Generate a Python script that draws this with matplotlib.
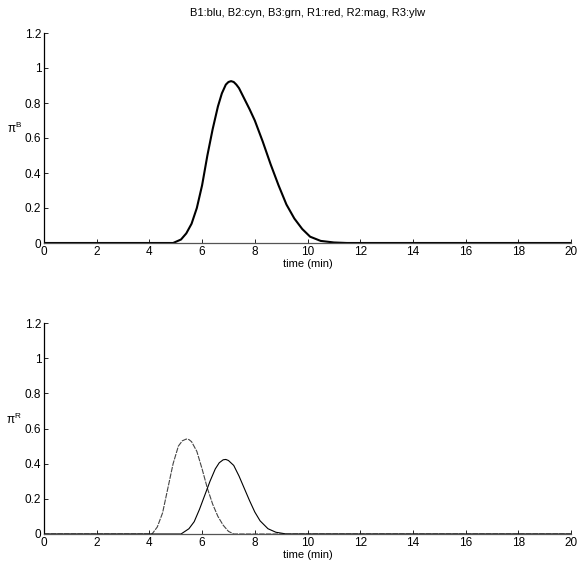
import matplotlib.pyplot as plt

plt.rcParams['font.family'] = ['Liberation Sans', 'DejaVu Sans']
plt.rcParams['mathtext.fontset'] = 'custom'
plt.rcParams['mathtext.rm'] = 'Liberation Sans'

# Top panel: blue-group response (only B1 is visible)
t_b1 = [0, 4.9, 5.2, 5.4, 5.6, 5.8, 6.0, 6.2, 6.4, 6.6, 6.75, 6.9, 7.0, 7.1, 7.2, 7.3,
        7.4, 7.6, 7.8, 8.0, 8.3, 8.6, 8.9, 9.2, 9.5, 9.8, 10.1, 10.5, 11.0, 11.5, 20]
pi_b1 = [0, 0, 0.02, 0.055, 0.11, 0.2, 0.33, 0.5, 0.65, 0.78, 0.855, 0.905, 0.92, 0.925, 0.92, 0.905,
         0.885, 0.825, 0.765, 0.70, 0.58, 0.45, 0.33, 0.22, 0.14, 0.08, 0.036, 0.012, 0.003, 0, 0]

# Bottom panel: red-group responses
t_r1 = [0, 4.1, 4.3, 4.5, 4.7, 4.9, 5.1, 5.25, 5.4, 5.5, 5.6, 5.8, 6.0, 6.2, 6.4,
        6.6, 6.8, 7.0, 7.2, 20]
pi_r1 = [0, 0, 0.04, 0.12, 0.26, 0.40, 0.50, 0.53, 0.54, 0.537, 0.525, 0.47, 0.37, 0.26, 0.17,
         0.10, 0.05, 0.015, 0, 0]

t_r2 = [0, 5.2, 5.5, 5.7, 5.9, 6.1, 6.3, 6.5, 6.65, 6.8, 6.9, 7.0, 7.2, 7.4, 7.6,
        7.8, 8.0, 8.2, 8.5, 8.8, 9.2, 20]
pi_r2 = [0, 0, 0.03, 0.07, 0.14, 0.22, 0.30, 0.37, 0.405, 0.422, 0.424, 0.418, 0.39, 0.33, 0.26,
         0.19, 0.125, 0.075, 0.03, 0.01, 0, 0]

x_ticks = list(range(0, 21, 2))
y_ticks = [0, 0.2, 0.4, 0.6, 0.8, 1, 1.2]
y_tick_labels = ['0', '0.2', '0.4', '0.6', '0.8', '1', '1.2']

fig = plt.figure(figsize=(5.82, 5.77), dpi=100)
ax_top = fig.add_axes([44 / 582, 334 / 577, 527 / 582, 210 / 577])
ax_bot = fig.add_axes([44 / 582, 43 / 577, 527 / 582, 211 / 577])

ax_top.plot(t_b1, pi_b1, color='black', lw=1.5)
ax_bot.plot(t_r1, pi_r1, color='#444444', lw=0.8, dashes=(5, 1))
ax_bot.plot(t_r2, pi_r2, color='black', lw=0.8)

for ax, sup in [(ax_top, 'B'), (ax_bot, 'R')]:
    ax.set_xlim(0, 20)
    ax.set_ylim(0, 1.2)
    ax.set_xticks(x_ticks)
    ax.set_yticks(y_ticks)
    ax.set_yticklabels(y_tick_labels)
    ax.tick_params(direction='in', length=3, width=0.6, labelsize=8.5, pad=2)
    ax.spines['top'].set_visible(False)
    ax.spines['right'].set_visible(False)
    ax.spines['left'].set_linewidth(0.9)
    ax.spines['bottom'].set_linewidth(0.9)
    ax.spines['bottom'].set_color('#555555')
    ax.set_xlabel('time (min)', fontsize=8, labelpad=1)
    ax.set_ylabel('π$^{\\mathrm{' + sup + '}}$', fontsize=8.5, rotation=0,
                  ha='right', va='center')
    ax.yaxis.set_label_coords(-0.042, 0.545)

ax_top.set_title('B1:blu, B2:cyn, B3:grn, R1:red, R2:mag, R3:ylw', fontsize=8, pad=12)

fig.savefig('out.png', dpi=100)
